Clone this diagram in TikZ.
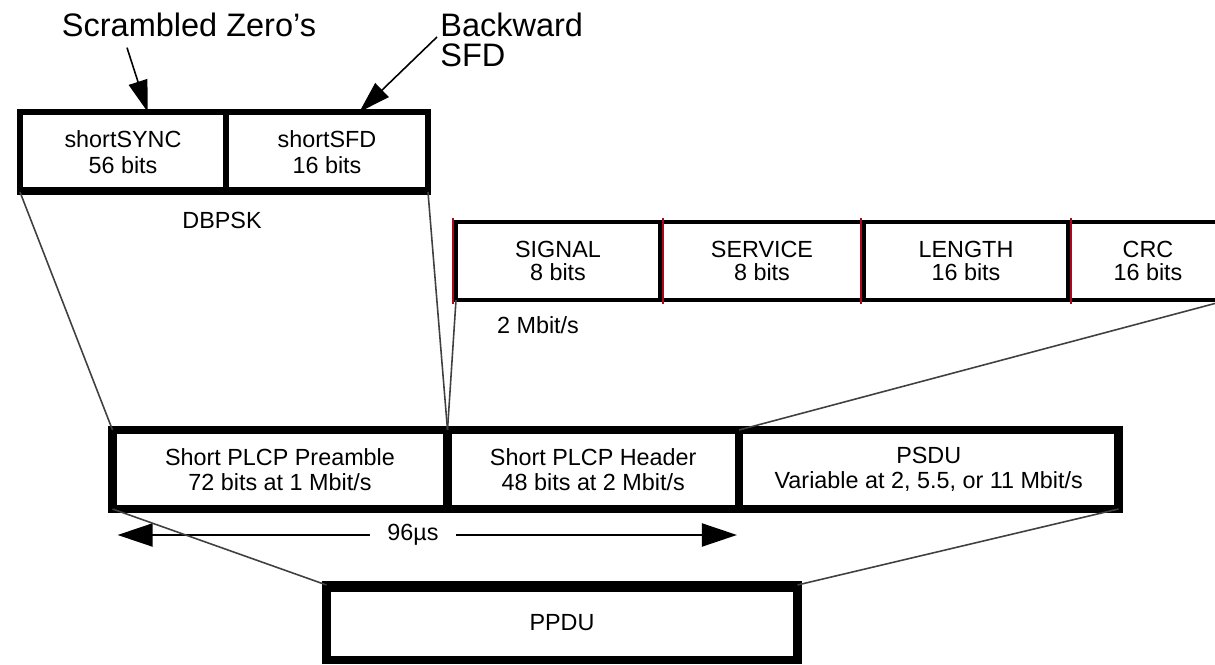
\documentclass[tikz,border=0pt]{standalone}
\usepackage{fontspec}
\setmainfont{Liberation Sans}
\usetikzlibrary{arrows.meta,positioning,calc}
\definecolor{fieldred}{RGB}{170,10,30}
\newdimen\pxu \pxu=0.02cm

\begin{document}
\begin{tikzpicture}[x=0.02cm, y=-0.02cm,
    tcell/.style={draw, line width=3.4pt, outer sep=0pt, inner sep=0pt,
        minimum height=80\pxu, align=center, font=\fontsize{13.3}{14.8}\selectfont},
    bcell/.style={draw, line width=5pt, outer sep=0pt, inner sep=0pt,
        minimum height=79\pxu, align=center, font=\fontsize{13.3}{14.4}\selectfont},
    fcell/.style={draw, line width=2.2pt, outer sep=0pt, inner sep=0pt,
        minimum height=78\pxu, minimum width=204\pxu, align=center,
        font=\fontsize{13.3}{12.9}\selectfont},
    lab/.style={font=\fontsize{13.3}{15}\selectfont, inner sep=0pt},
    big/.style={font=\fontsize{18.5}{17}\selectfont, inner sep=0pt, align=left},
    link/.style={line width=0.9pt, black!75},
    note/.style={-{Triangle[length=18pt,width=11pt]}, line width=0.9pt},
    span/.style={{Triangle[length=20pt,width=13pt]}-{Triangle[length=20pt,width=13pt]}, line width=1.6pt},
    redmark/.style={fieldred, line width=1.6pt}
]
    \clip (0,0) rectangle (1215,665);

    % preamble fields
    \node[tcell, minimum width=206\pxu] (sync) at (123,152) {shortSYNC\\56 bits};
    \node[tcell, minimum width=202\pxu, right=0pt of sync] (sfd) {shortSFD\\16 bits};
    \draw[line width=3.4pt] ($(sync.south west)+(0,-2)$) -- ($(sfd.south east)+(0,-2)$);
    \node[lab] (dbpsk) at (222,220) {DBPSK};

    \node[big, anchor=base] (scr) at (189,37) {Scrambled Zero's};
    \node[big, anchor=west] (bwd) at (440,40) {Backward\\SFD};
    \draw[note] ($(scr.south)+(-62,10)$) -- ($(sync.north west)!0.62!(sync.north east)$);
    \draw[note] ($(bwd.west)+(-3,-3)$) -- ($(sfd.north west)!0.66!(sfd.north east)$);

    % header fields
    \node[fcell] (signal) at (558,261) {SIGNAL\\8 bits};
    \node[fcell, right=0pt of signal] (service) {SERVICE\\8 bits};
    \node[fcell, right=0pt of service] (length) {LENGTH\\16 bits};
    \node[fcell, minimum width=160\pxu, right=0pt of length] (crc) {CRC\\16 bits};
    \foreach \f/\o in {signal/-3, service/3, length/-3, crc/3}
        \draw[redmark] ($(\f.north west)+(\o,-4)$) -- ($(\f.south west)+(\o,4)$);
    \node[lab] (rate) at (538,325) {2 Mbit/s};

    % PLCP frame
    \node[bcell, minimum width=335\pxu] (pre) at (280,469.5) {Short PLCP Preamble\\72 bits at 1 Mbit/s};
    \node[bcell, minimum width=291.5\pxu, right=0pt of pre] (hdr) {Short PLCP Header\\48 bits at 2 Mbit/s};
    \node[bcell, minimum width=379.5\pxu, right=0pt of hdr] (psdu) {PSDU\\Variable at 2, 5.5, or 11 Mbit/s};

    \node[bcell, minimum width=471\pxu, minimum height=75\pxu] (ppdu) at (562,622.5) {PPDU};
    \draw[line width=5pt] ($(ppdu.north west)+(0,3)$) -- ($(ppdu.north east)+(0,3)$);

    \coordinate (tL) at ($(pre.south west)+(5,26)$);
    \coordinate (tR) at ($(hdr.south east)+(-2,26)$);
    \draw[span] (tL) -- node[pos=0.477, lab, fill=white, inner xsep=10pt] {96µs} (tR);

    \draw[link] (sync.south west) -- (pre.north west);
    \draw[link] (sfd.south east) -- (hdr.north west);
    \draw[link] (signal.south west) -- (hdr.north west);
    \draw[link] (crc.south east) -- (hdr.north east);
    \draw[link] (pre.south west) -- (ppdu.north west);
    \draw[link] (psdu.south east) -- (ppdu.north east);
\end{tikzpicture}
\end{document}
